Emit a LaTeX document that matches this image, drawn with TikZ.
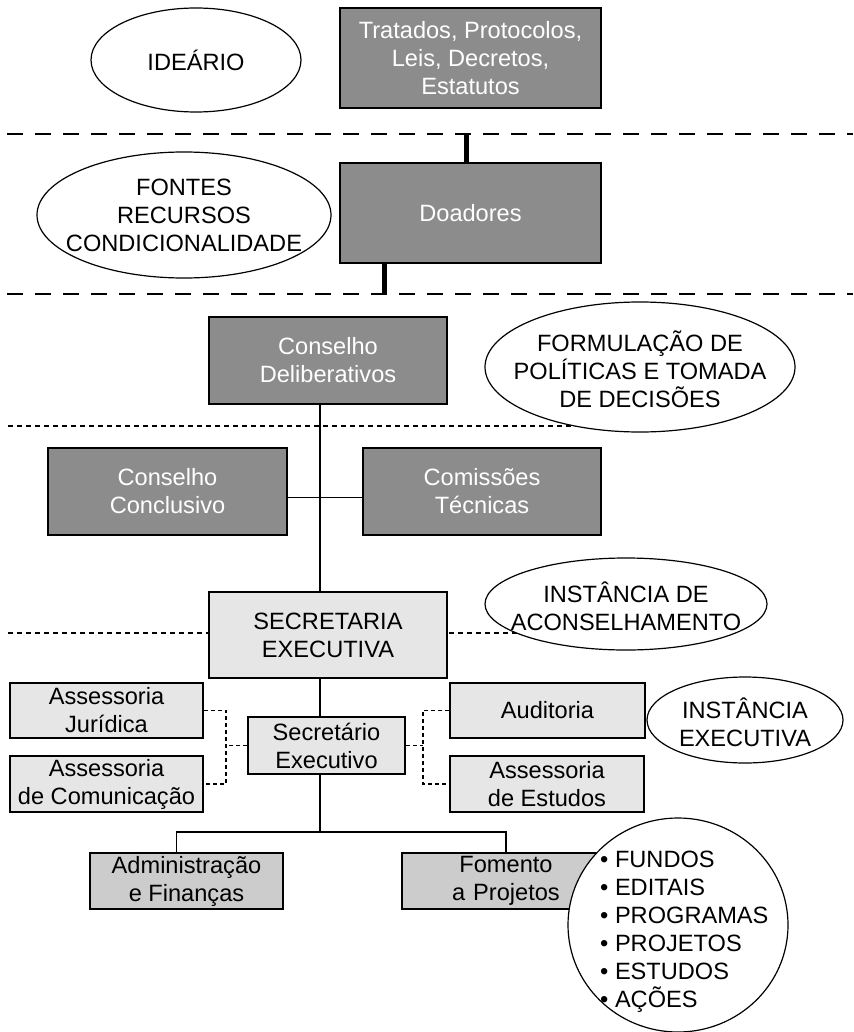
\documentclass[tikz,border=0pt]{standalone}
\usepackage{fontspec}
\setmainfont{Liberation Sans}
\definecolor{darkbox}{RGB}{140,140,140}
\definecolor{lightbox}{RGB}{230,230,230}
\definecolor{midbox}{RGB}{204,204,204}
\begin{document}
\begin{tikzpicture}[x=1pt,y=-1pt,
  txt/.style={font=\fontsize{23.6}{28}\selectfont},
  box/.style={txt, draw=black, line width=1.2pt, align=center, inner sep=0pt},
  dbox/.style={box, fill=darkbox, text=white},
  lbox/.style={box, fill=lightbox},
  mbox/.style={box, fill=midbox},
  oval/.style={draw=black, line width=1.2pt, fill=white},
  lbl/.style={txt, align=center, inner sep=0pt},
  conn/.style={line width=1.2pt},
  heavy/.style={line width=5pt},
  sep/.style={line width=2.5pt, dash pattern=on 16pt off 12pt},
  dotsep/.style={line width=2pt, dash pattern=on 5pt off 4pt},
  dconn/.style={line width=1.2pt, dash pattern=on 4pt off 3pt}
]
\useasboundingbox (0,0) rectangle (853,1032);

% separators
\coordinate (s1a) at (7,134);   \coordinate (s1b) at (853,134);
\coordinate (s2a) at (7,294);   \coordinate (s2b) at (853,294);
\coordinate (d1a) at (8,426);   \coordinate (d1b) at (600,426);
\coordinate (d2a) at (8,633);   \coordinate (d2b) at (600,633);
\draw[sep] (s1a) -- (s1b);
\draw[sep] (s2a) -- (s2b);
\draw[dotsep] (d1a) -- (d1b);
\draw[dotsep] (d2a) -- (d2b);

% helper coordinates
\coordinate (vx) at (320,0);
\coordinate (tj) at (320,832);
\coordinate (lx) at (226,0);
\coordinate (rx) at (423,0);
\coordinate (t1) at (466,134);
\coordinate (t2) at (384,294);

% boxes
\node[dbox, minimum width=261, minimum height=100] (trat) at (470.5,58) {Tratados, Protocolos,\\Leis, Decretos,\\Estatutos};
\node[dbox, minimum width=261, minimum height=100] (doad) at (470.5,213) {Doadores};
\node[dbox, minimum width=238, minimum height=87] (delib) at (328,360.5) {Conselho\\Deliberativos};
\node[dbox, minimum width=239, minimum height=87] (concl) at (167.5,491.5) {Conselho\\Conclusivo};
\node[dbox, minimum width=238, minimum height=87] (comis) at (482,491.5) {Comissões\\Técnicas};
\node[lbox, minimum width=238, minimum height=86] (secr) at (328,635) {SECRETARIA\\EXECUTIVA};
\node[lbox, minimum width=193, minimum height=55] (jur) at (106.5,710.5) {Assessoria\\Jurídica};
\node[lbox, minimum width=193, minimum height=56] (com) at (106.5,784) {Assessoria\\de Comunicação};
\node[lbox, minimum width=157, minimum height=57] (sexec) at (326.5,745.5) {Secretário\\Executivo};
\node[lbox, minimum width=195, minimum height=55] (aud) at (547.5,710.5) {Auditoria};
\node[lbox, minimum width=194, minimum height=56] (est) at (547,784) {Assessoria\\de Estudos};
\node[mbox, minimum width=193, minimum height=56] (adm) at (186.5,881) {Administração\\e Finanças};
\node[mbox, minimum width=208, minimum height=56, text width=190] (fom) at (506,881) {\centering Fomento\\a Projetos};

% connectors
\draw[heavy] (t1) -- (t1 |- doad.north);
\draw[heavy] (doad.south -| t2) -- (t2);
\draw[conn] (delib.south -| vx) -- (secr.north -| vx);
\draw[conn] ([yshift=-6pt]concl.east) -- ([yshift=-6pt]comis.west);
\draw[conn] (secr.south -| vx) -- (sexec.north -| vx);
\draw[conn] (sexec.south -| vx) -- (tj);
\draw[conn] ([xshift=-10pt]adm.north) |- (fom.north |- tj) -- (fom.north);
\draw[dconn] (jur.east) -| (lx |- com.east) -- (com.east);
\draw[dconn] (sexec.west) -- (sexec.west -| lx);
\draw[dconn] (aud.west) -| (rx |- est.west) -- (est.west);
\draw[dconn] (sexec.east) -- (sexec.east -| rx);

% ellipses
\draw[oval] (196,60) ellipse [x radius=105, y radius=52];
\node[lbl] (ide) at (196,60) {IDEÁRIO};
\draw[oval] (184,215) ellipse [x radius=147, y radius=63];
\node[lbl] (fon) at (184,215) {FONTES\\RECURSOS\\CONDICIONALIDADE};
\draw[oval] (640,367) ellipse [x radius=155, y radius=65];
\node[lbl] (form) at (640,369) {FORMULAÇÃO DE\\POLÍTICAS E TOMADA\\DE DECISÕES};
\draw[oval] (626,604) ellipse [x radius=141, y radius=46];
\node[lbl] (acon) at (626,606) {INSTÂNCIA DE\\ACONSELHAMENTO};
\draw[oval] (745,720) ellipse [x radius=98, y radius=43];
\node[lbl] (iexe) at (745,722) {INSTÂNCIA\\EXECUTIVA};
\draw[oval] (678,925) ellipse [x radius=110, y radius=107];
\node[lbl, align=left, anchor=west] (lst) at (600,932) {• FUNDOS\\• EDITAIS\\• PROGRAMAS\\• PROJETOS\\• ESTUDOS\\• AÇÕES};
\end{tikzpicture}
\end{document}
